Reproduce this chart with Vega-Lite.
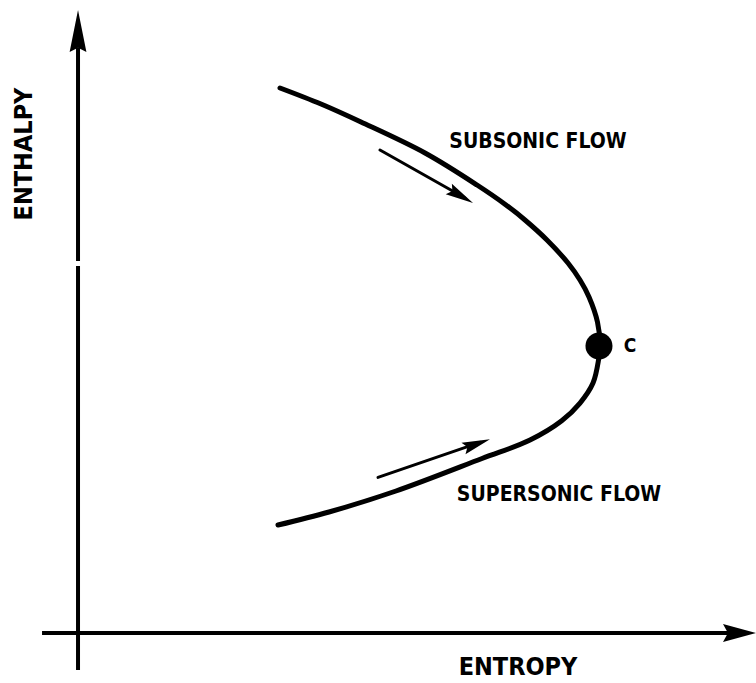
{
  "$schema": "https://vega.github.io/schema/vega-lite/v6.json",
  "width": 756,
  "height": 683,
  "autosize": {"type": "fit", "contains": "padding"},
  "padding": 0,
  "background": "white",
  "config": {"view": {"stroke": null}},
  "datasets": {
    "curve": [
      {"i": 1, "s": 37.04, "h": 87.12},
      {"i": 2, "s": 42.46, "h": 84.77},
      {"i": 3, "s": 47.75, "h": 82.14},
      {"i": 4, "s": 56.22, "h": 77.60},
      {"i": 5, "s": 63.10, "h": 72.91},
      {"i": 6, "s": 66.93, "h": 69.99},
      {"i": 7, "s": 69.44, "h": 67.79},
      {"i": 8, "s": 72.35, "h": 64.86},
      {"i": 9, "s": 75.13, "h": 61.49},
      {"i": 10, "s": 76.72, "h": 59.00},
      {"i": 11, "s": 77.91, "h": 56.52},
      {"i": 12, "s": 79.03, "h": 52.86},
      {"i": 13, "s": 79.37, "h": 49.49},
      {"i": 14, "s": 79.17, "h": 47.29},
      {"i": 15, "s": 78.44, "h": 43.92},
      {"i": 16, "s": 76.72, "h": 40.99},
      {"i": 17, "s": 74.30, "h": 38.40},
      {"i": 18, "s": 70.11, "h": 35.58},
      {"i": 19, "s": 63.76, "h": 32.87},
      {"i": 20, "s": 52.38, "h": 28.11},
      {"i": 21, "s": 43.52, "h": 25.04},
      {"i": 22, "s": 36.77, "h": 23.13}
    ],
    "axes": [
      {"name": "enthalpy axis low", "s": 10.32, "h": 1.90, "s2": 10.32, "h2": 61.05},
      {"name": "enthalpy axis high", "s": 10.32, "h": 61.79, "s2": 10.32, "h2": 93.0},
      {"name": "entropy axis", "s": 5.56, "h": 7.32, "s2": 96.5, "h2": 7.32}
    ],
    "flows": [
      {"name": "subsonic", "s": 50.26, "h": 78.04, "s2": 61.51, "h2": 71.01},
      {"name": "supersonic", "s": 50.0, "h": 30.10, "s2": 63.49, "h2": 35.23}
    ],
    "heads": [
      {"name": "enthalpy", "s": 10.32, "h": 98.54},
      {"name": "entropy", "s": 100.0, "h": 7.32},
      {"name": "subsonic", "s": 62.57, "h": 70.28},
      {"name": "supersonic", "s": 64.81, "h": 35.67}
    ],
    "critical": [
      {"label": "C", "s": 79.23, "h": 49.34}
    ],
    "labels": [
      {"label": "SUBSONIC FLOW", "kind": "flow", "s": 71.16, "h": 79.21},
      {"label": "SUPERSONIC FLOW", "kind": "flow", "s": 73.94, "h": 27.53},
      {"label": "ENTROPY", "kind": "x", "s": 68.52, "h": 2.34},
      {"label": "ENTHALPY", "kind": "y", "s": 3.17, "h": 77.45},
      {"label": "C", "kind": "point", "s": 83.33, "h": 49.34}
    ]
  },
  "encoding": {
    "x": {"field": "s", "type": "quantitative", "scale": {"domain": [0, 100], "nice": false, "zero": false}, "axis": null},
    "y": {"field": "h", "type": "quantitative", "scale": {"domain": [0, 100], "nice": false, "zero": false}, "axis": null}
  },
  "layer": [
    {
      "data": {"name": "axes"},
      "mark": {"type": "rule", "color": "black", "strokeWidth": 4, "strokeCap": "butt"},
      "encoding": {"x2": {"field": "s2"}, "y2": {"field": "h2"}}
    },
    {
      "data": {"name": "flows"},
      "mark": {"type": "rule", "color": "black", "strokeWidth": 3, "strokeCap": "round"},
      "encoding": {"x2": {"field": "s2"}, "y2": {"field": "h2"}}
    },
    {
      "data": {"name": "curve"},
      "mark": {"type": "line", "color": "black", "strokeWidth": 5, "interpolate": "catmull-rom", "strokeCap": "round"},
      "encoding": {"order": {"field": "i", "type": "quantitative"}}
    },
    {
      "data": {"name": "heads"},
      "transform": [{"filter": "datum.name === 'enthalpy'"}],
      "mark": {"type": "point", "filled": true, "opacity": 1, "color": "black", "shape": "M0,0L0.2,1L0,0.9L-0.2,1Z", "size": 7056, "angle": 0}
    },
    {
      "data": {"name": "heads"},
      "transform": [{"filter": "datum.name === 'entropy'"}],
      "mark": {"type": "point", "filled": true, "opacity": 1, "color": "black", "shape": "M0,0L0.27,1L0,0.85L-0.27,1Z", "size": 4356, "angle": 90}
    },
    {
      "data": {"name": "heads"},
      "transform": [{"filter": "datum.name === 'subsonic'"}],
      "mark": {"type": "point", "filled": true, "opacity": 1, "color": "black", "shape": "M0,0L0.22,1L0,0.85L-0.22,1Z", "size": 3136, "angle": 120}
    },
    {
      "data": {"name": "heads"},
      "transform": [{"filter": "datum.name === 'supersonic'"}],
      "mark": {"type": "point", "filled": true, "opacity": 1, "color": "black", "shape": "M0,0L0.22,1L0,0.85L-0.22,1Z", "size": 3136, "angle": 71}
    },
    {
      "data": {"name": "critical"},
      "mark": {"type": "point", "filled": true, "opacity": 1, "color": "black", "shape": "circle", "size": 729}
    },
    {
      "data": {"name": "labels"},
      "transform": [{"filter": "datum.kind === 'flow'"}],
      "mark": {"type": "text", "font": "DejaVu Sans Condensed", "fontWeight": "bold", "fontSize": 21, "align": "center", "baseline": "middle", "color": "black"},
      "encoding": {"text": {"field": "label"}}
    },
    {
      "data": {"name": "labels"},
      "transform": [{"filter": "datum.kind === 'x'"}],
      "mark": {"type": "text", "font": "DejaVu Sans Condensed", "fontWeight": "bold", "fontSize": 25, "align": "center", "baseline": "middle", "color": "black"},
      "encoding": {"text": {"field": "label"}}
    },
    {
      "data": {"name": "labels"},
      "transform": [{"filter": "datum.kind === 'y'"}],
      "mark": {"type": "text", "font": "DejaVu Sans Condensed", "fontWeight": "bold", "fontSize": 25, "align": "center", "baseline": "middle", "angle": 270, "color": "black"},
      "encoding": {"text": {"field": "label"}}
    },
    {
      "data": {"name": "labels"},
      "transform": [{"filter": "datum.kind === 'point'"}],
      "mark": {"type": "text", "font": "DejaVu Sans Condensed", "fontWeight": "bold", "fontSize": 19, "align": "center", "baseline": "middle", "color": "black"},
      "encoding": {"text": {"field": "label"}}
    }
  ]
}
